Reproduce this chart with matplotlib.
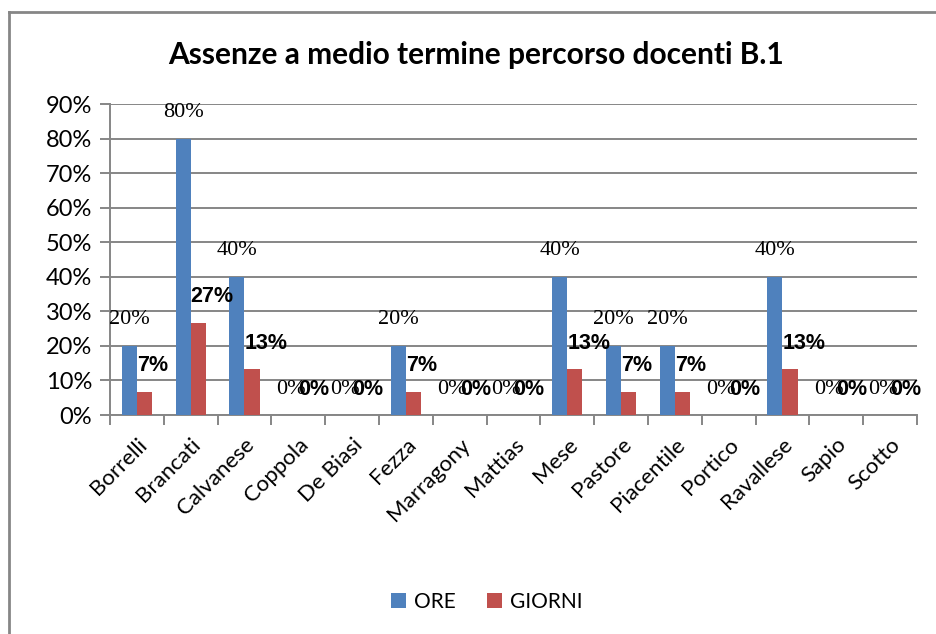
import numpy as np
import matplotlib.pyplot as plt
from matplotlib.lines import Line2D

docenti = ["Borrelli", "Brancati", "Calvanese", "Coppola", "De Biasi", "Fezza",
           "Marragony", "Mattias", "Mese", "Pastore", "Piacentile", "Portico",
           "Ravallese", "Sapio", "Scotto"]
ore = [0.20, 0.80, 0.40, 0, 0, 0.20, 0, 0, 0.40, 0.20, 0.20, 0, 0.40, 0, 0]
giorni = [0.067, 0.267, 0.133, 0, 0, 0.067, 0, 0, 0.133, 0.067, 0.067, 0, 0.133, 0, 0]
yticks = [0, 0.1, 0.2, 0.3, 0.4, 0.5, 0.6, 0.7, 0.8, 0.9]

BLUE = "#4F81BD"
RED = "#C0504D"
GREY = "#868686"

fig = plt.figure(figsize=(9.37, 6.34), dpi=100)
ax = fig.add_axes([110 / 937, 1 - 415 / 634, 807 / 937, 311 / 634])

x = np.arange(len(docenti))
w = 0.28
ax.bar(x - w / 2, ore, w, color=BLUE, zorder=3, label="ORE")
ax.bar(x + w / 2, giorni, w, color=RED, zorder=3, label="GIORNI")

for xi, v in zip(x, ore):
    ax.annotate("{:.0f}%".format(v * 100), (xi - w / 2, v), xytext=(0, 18.7),
                textcoords="offset points", ha="center", va="center",
                fontsize=16, family="Liberation Serif", zorder=4)
for xi, v in zip(x, giorni):
    ax.annotate("{:.0f}%".format(v * 100), (xi, v), xytext=(0, 18.7),
                textcoords="offset points", ha="left", va="center",
                fontsize=15.5, fontweight="bold", family="Liberation Sans", zorder=4)

ax.set_xlim(-0.5, len(docenti) - 0.5)
ax.set_ylim(0, 0.9)
ax.set_yticks(yticks)
ax.set_yticklabels(["{:.0f}%".format(t * 100) for t in yticks], fontsize=17, family="Lato")
ax.yaxis.grid(True, color=GREY, linewidth=1.4, zorder=0)
ax.tick_params(axis="y", length=7, width=1.4, color=GREY, pad=6)

ax.set_xticks(x)
ax.set_xticklabels(docenti, rotation=45, ha="right", rotation_mode="anchor",
                   fontsize=16, family="Lato")
ax.set_xticks(np.arange(len(docenti) + 1) - 0.5, minor=True)
ax.tick_params(axis="x", which="major", length=0, pad=14)
ax.tick_params(axis="x", which="minor", length=7, width=1.4, color=GREY)

for s in ["top", "right"]:
    ax.spines[s].set_visible(False)
for s in ["left", "bottom"]:
    ax.spines[s].set_color(GREY)
    ax.spines[s].set_linewidth(1.4)

fig.text(476 / 937, 1 - 55 / 634, "Assenze a medio termine percorso docenti B.1",
         ha="center", va="center", fontsize=21.5, fontweight="bold", family="Lato")

ax.legend(loc="center", bbox_to_anchor=(487 / 937, 1 - 602 / 634),
          bbox_transform=fig.transFigure, ncol=2, frameon=False,
          prop={"family": "Lato", "size": 15}, handlelength=0.7, handleheight=0.7,
          handletextpad=0.4, columnspacing=1.5)

fig.add_artist(Line2D([9 / 937, 9 / 937], [0, 1 - 12 / 634], color=GREY, linewidth=2,
                      transform=fig.transFigure))
fig.add_artist(Line2D([9 / 937, 1], [1 - 12 / 634, 1 - 12 / 634], color=GREY, linewidth=2,
                      transform=fig.transFigure))

fig.savefig("out.png", dpi=100)
